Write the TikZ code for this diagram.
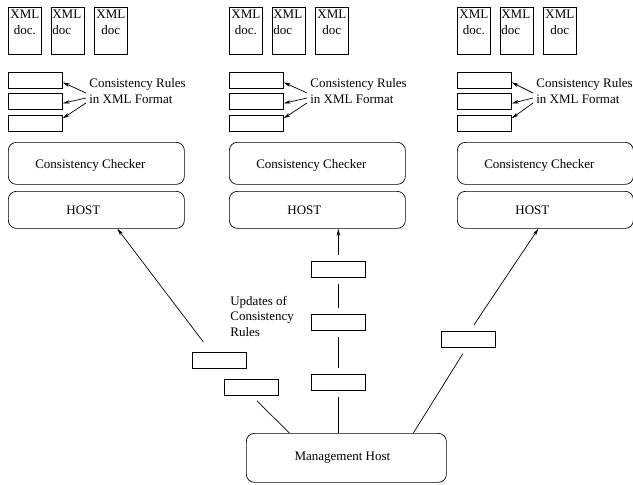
\documentclass[tikz,border=0pt]{standalone}
\usepackage{fontspec}
\setmainfont{Liberation Serif}
\usetikzlibrary{arrows.meta}
\begin{document}
\begin{tikzpicture}[x=1pt,y=-1pt,line width=0.7pt,
  font=\fontsize{13}{15.5}\selectfont,
  >={Stealth[length=7pt,width=3.5pt,inset=2pt]},
  docbox/.style={draw,minimum width=33,minimum height=47,inner sep=0,anchor=north west},
  doctxt/.style={anchor=north,align=center,inner sep=1pt,yshift=-2pt},
  rulebox/.style={draw,minimum width=54,minimum height=16,inner sep=0,anchor=north west},
  hostbox/.style={draw,rounded corners=8pt,minimum width=176,inner sep=0,anchor=north west},
  updbox/.style={draw,minimum width=54,minimum height=16,inner sep=0,anchor=north west},
  txt/.style={align=left,inner sep=3pt,anchor=west}]
\useasboundingbox (0,0) rectangle (633,485);
%\draw[step=20,gray,very thin] (0,0) grid (633,485);
% first host
\node[docbox,label={[doctxt]north:XML\\doc.}] (xa1) at (8,7) {};
\node[docbox,label={[doctxt,align=left,anchor=north west]north west:XML\\doc}] (xa2) at (51,7) {};
\node[docbox,label={[doctxt]north:XML\\doc}] (xa3) at (94,7) {};
\node[rulebox] (ra1) at (8,72) {};
\node[rulebox] (ra2) at (8,93) {};
\node[rulebox] (ra3) at (8,115) {};
\node[txt] (rta) at (86,91) {Consistency Rules\\in XML Format};
\draw[->] ([yshift=-2]rta.west) -- ([yshift=-2]ra1.east);
\draw[->] ([yshift=-7]rta.west) -- ([yshift=-2]ra2.east);
\draw[->] ([yshift=-12]rta.west) -- ([yshift=5]ra3.east);
\node[hostbox,minimum height=42,label={[xshift=-6,yshift=-2]center:Consistency Checker}] (cca) at (8,142) {};
\node[hostbox,minimum height=37,label={[xshift=-13]center:HOST}] (ha) at (8,191) {};
% second host
\node[docbox,label={[doctxt]north:XML\\doc.}] (xb1) at (229,7) {};
\node[docbox,label={[doctxt,align=left,anchor=north west]north west:XML\\doc}] (xb2) at (272,7) {};
\node[docbox,label={[doctxt]north:XML\\doc}] (xb3) at (315,7) {};
\node[rulebox] (rb1) at (229,72) {};
\node[rulebox] (rb2) at (229,93) {};
\node[rulebox] (rb3) at (229,115) {};
\node[txt] (rtb) at (307,91) {Consistency Rules\\in XML Format};
\draw[->] ([yshift=-2]rtb.west) -- ([yshift=-2]rb1.east);
\draw[->] ([yshift=-7]rtb.west) -- ([yshift=-2]rb2.east);
\draw[->] ([yshift=-12]rtb.west) -- ([yshift=5]rb3.east);
\node[hostbox,minimum height=42,label={[xshift=-6,yshift=-2]center:Consistency Checker}] (ccb) at (229,142) {};
\node[hostbox,minimum height=37,label={[xshift=-13]center:HOST}] (hb) at (229,191) {};
% third host
\node[docbox,label={[doctxt]north:XML\\doc.}] (xc1) at (457,7) {};
\node[docbox,label={[doctxt,align=left,anchor=north west]north west:XML\\doc}] (xc2) at (500,7) {};
\node[docbox,label={[doctxt]north:XML\\doc}] (xc3) at (543,7) {};
\node[rulebox] (rc1) at (457,72) {};
\node[rulebox] (rc2) at (457,93) {};
\node[rulebox] (rc3) at (457,115) {};
\node[txt] (rtc) at (533,91) {Consistency Rules\\in XML Format};
\draw[->] ([yshift=-2]rtc.west) -- ([yshift=-2]rc1.east);
\draw[->] ([yshift=-7]rtc.west) -- ([yshift=-2]rc2.east);
\draw[->] ([yshift=-12]rtc.west) -- ([yshift=5]rc3.east);
\node[hostbox,minimum height=42,label={[xshift=-6,yshift=-2]center:Consistency Checker}] (ccc) at (457,142) {};
\node[hostbox,minimum height=37,label={[xshift=-13]center:HOST}] (hc) at (457,191) {};
% management host and updates
\node[hostbox,minimum width=200,minimum height=49,label={[xshift=-4]center:Management Host}] (mh) at (246,433) {};
\node[updbox] (l1) at (192,352) {};
\node[updbox] (l2) at (224,379) {};
\node[updbox] (m1) at (311,374) {};
\node[updbox] (m2) at (311,314) {};
\node[updbox] (m3) at (311,261) {};
\node[updbox] (r1) at (441,331) {};
\node[txt] (upd) at (227,316) {Updates of\\Consistency\\Rules};
\draw ([xshift=-57]mh.north) -- ([xshift=5.5,yshift=-5]l2.south);
\draw[->] ([xshift=-16,yshift=10]l1.north) -- ([xshift=21]ha.south);
\draw[shorten >=6pt] (m1.south |- mh.north) -- (m1.south);
\draw[shorten <=6pt,shorten >=6pt] (m1.north) -- (m2.south);
\draw[shorten <=6pt,shorten >=6pt] (m2.north) -- (m3.south);
\draw[->,shorten <=6pt] (m3.north) -- (m3.north |- hb.south);
\draw ([xshift=67]mh.north) -- ([xshift=-5.5,yshift=-6]r1.south);
\draw[->] ([xshift=5.5,yshift=6]r1.north) -- ([xshift=-7]hc.south);
\end{tikzpicture}
\end{document}
